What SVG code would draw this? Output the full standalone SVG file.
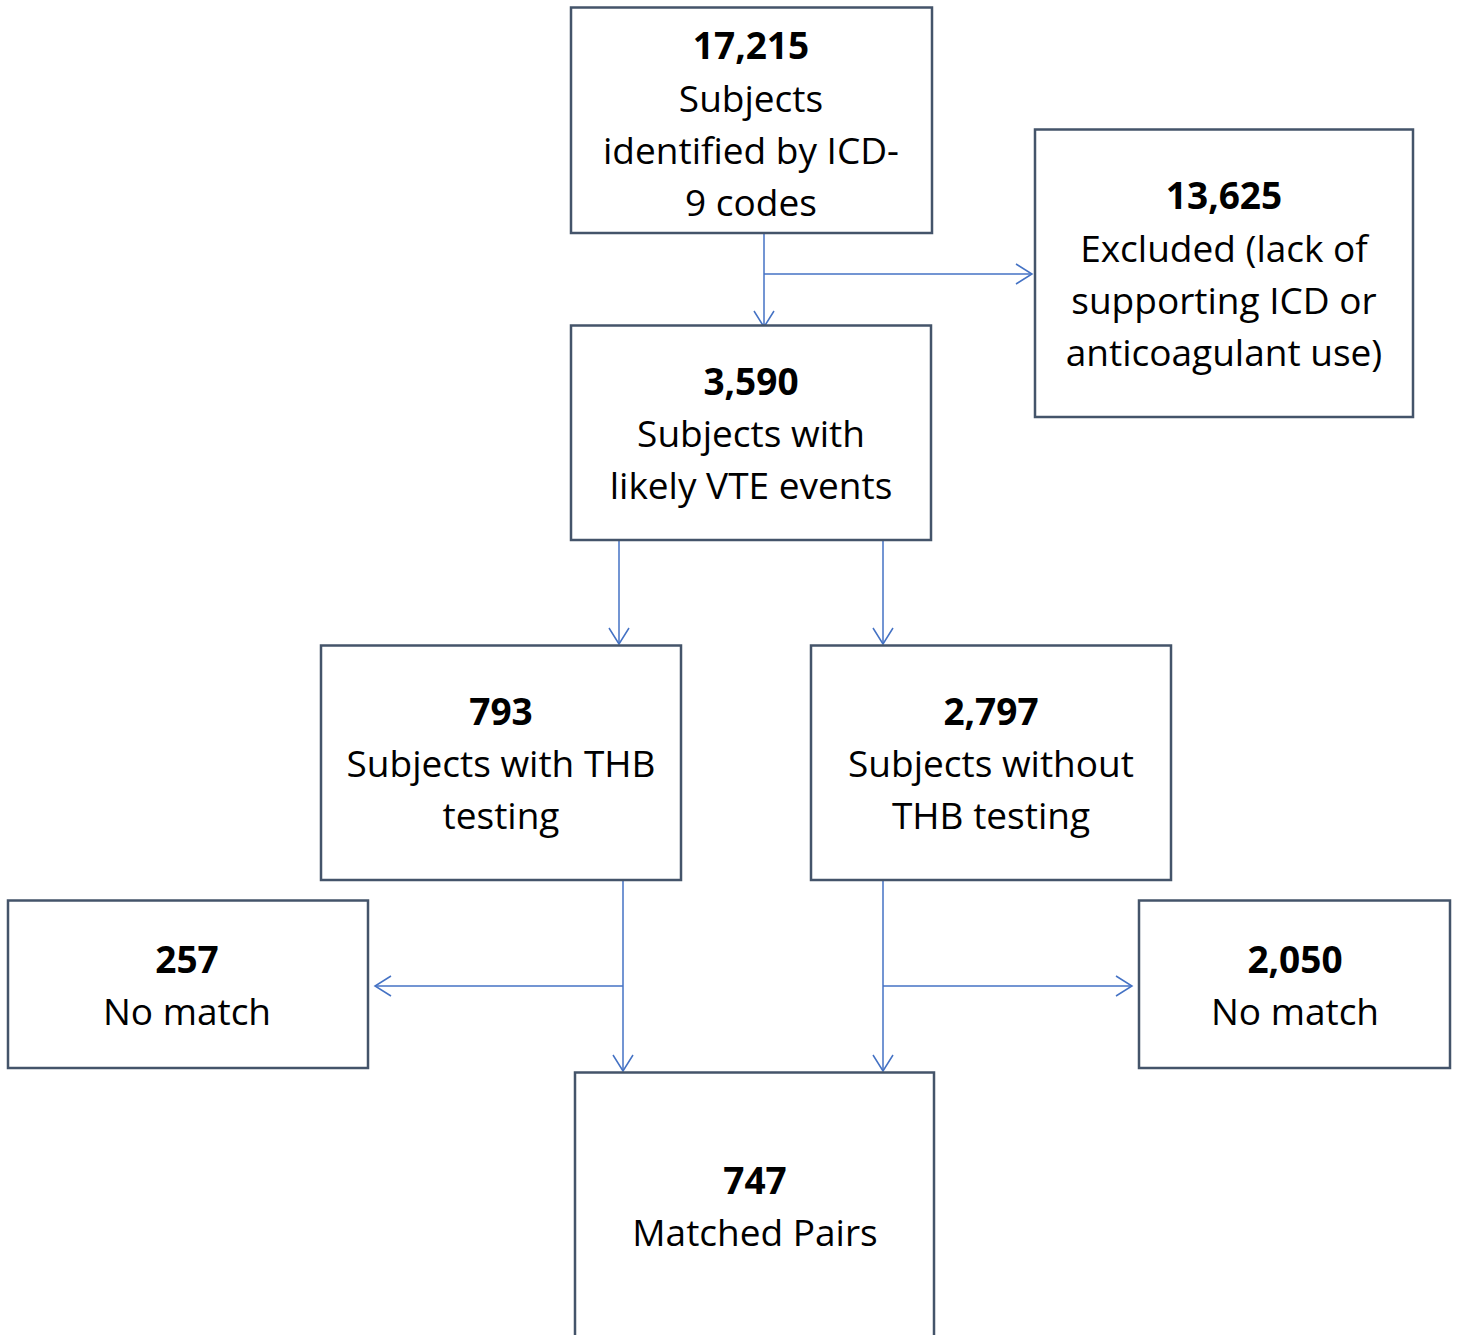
<svg xmlns="http://www.w3.org/2000/svg" width="1457" height="1335" viewBox="0 0 1457 1335">
<style>
.box{fill:#ffffff;stroke:#44546a;stroke-width:2.5}
.t{font-family:"Open Sans","Noto Sans",sans-serif;font-size:37px;fill:#000;text-anchor:middle}
.b{font-weight:bold}
.c{fill:none;stroke:#4472c4;stroke-width:1.5}
</style>
<defs>
<marker id="ah" markerUnits="userSpaceOnUse" markerWidth="24" markerHeight="24" viewBox="-18 -12 20 24" refX="0" refY="0" orient="auto">
<path d="M-16,-10 L0,0 L-16,10" fill="none" stroke="#4472c4" stroke-width="1.5"/>
</marker>
</defs>
<rect width="1457" height="1335" fill="#ffffff"/>
<g id="connectors">
<path class="c" d="M764,233 V327" marker-end="url(#ah)"/>
<path class="c" d="M764,274 H1032" marker-end="url(#ah)"/>
<path class="c" d="M619,540 V644" marker-end="url(#ah)"/>
<path class="c" d="M883,540 V644" marker-end="url(#ah)"/>
<path class="c" d="M623,880 V1071" marker-end="url(#ah)"/>
<path class="c" d="M623,986 H375" marker-end="url(#ah)"/>
<path class="c" d="M883,880 V1071" marker-end="url(#ah)"/>
<path class="c" d="M883,986 H1132" marker-end="url(#ah)"/>
</g>
<g id="n17215">
<rect class="box" x="571" y="7.5" width="361" height="225.5"/>
<text class="t b" x="751" y="59">17,215</text>
<text class="t" x="751" y="112">Subjects</text>
<text class="t" x="751" y="164">identified by ICD-</text>
<text class="t" x="751" y="216">9 codes</text>
</g>
<g id="n13625">
<rect class="box" x="1035" y="129.5" width="378" height="287.5"/>
<text class="t b" x="1224" y="209">13,625</text>
<text class="t" x="1224" y="262">Excluded (lack of</text>
<text class="t" x="1224" y="314">supporting ICD or</text>
<text class="t" x="1224" y="366">anticoagulant use)</text>
</g>
<g id="n3590">
<rect class="box" x="571" y="325.5" width="360" height="214.5"/>
<text class="t b" x="751" y="395">3,590</text>
<text class="t" x="751" y="447">Subjects with</text>
<text class="t" x="751" y="499">likely VTE events</text>
</g>
<g id="n793">
<rect class="box" x="321" y="645.5" width="360" height="234.5"/>
<text class="t b" x="501" y="725">793</text>
<text class="t" x="501" y="777">Subjects with THB</text>
<text class="t" x="501" y="829">testing</text>
</g>
<g id="n2797">
<rect class="box" x="811" y="645.5" width="360" height="234.5"/>
<text class="t b" x="991" y="725">2,797</text>
<text class="t" x="991" y="777">Subjects without</text>
<text class="t" x="991" y="829">THB testing</text>
</g>
<g id="n257">
<rect class="box" x="8" y="900.5" width="360" height="167.5"/>
<text class="t b" x="187" y="973">257</text>
<text class="t" x="187" y="1025">No match</text>
</g>
<g id="n2050">
<rect class="box" x="1139" y="900.5" width="311" height="167.5"/>
<text class="t b" x="1295" y="973">2,050</text>
<text class="t" x="1295" y="1025">No match</text>
</g>
<g id="n747">
<rect class="box" x="575" y="1072.5" width="359" height="300"/>
<text class="t b" x="755" y="1194">747</text>
<text class="t" x="755" y="1246">Matched Pairs</text>
</g>
</svg>
